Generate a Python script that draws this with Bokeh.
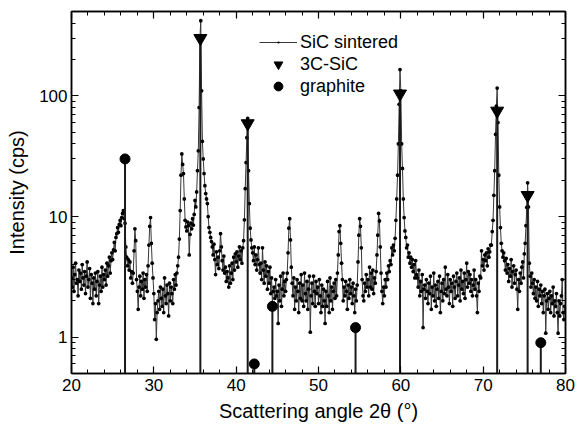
from bokeh.plotting import figure
from bokeh.models import (FixedTicker, LinearAxis, LogAxis, Legend, LegendItem,
                          Range1d)
from bokeh.embed import file_html
from bokeh.resources import INLINE

# ---- data -------------------------------------------------------------
ANGLE_START = 20.0
ANGLE_STEP = 0.1
INTENSITY = [
    3.1, 2.6, 3.8, 2.4, 3.3, 4.1, 2.8, 3.0, 2.2, 3.6,      # 20
    2.9, 3.4, 2.5, 4.0, 3.1, 2.7, 3.5, 2.3, 3.2, 4.2,      # 21
    2.6, 3.0, 3.7, 2.1, 3.3, 2.8, 1.9, 3.1, 2.5, 3.4,      # 22
    2.2, 2.9, 3.5, 1.9, 2.7, 3.2, 2.4, 3.8, 2.6, 3.3,      # 23
    3.0, 3.6, 2.7, 4.1, 3.2, 3.9, 4.6, 3.4, 4.3, 5.0,      # 24
    4.4, 5.3, 6.1, 5.2, 6.7, 7.2, 8.1, 7.4, 8.6, 9.3,      # 25
    8.4, 9.8, 10.6, 11.2, 9.6, 8.8, 5.6, 4.6, 3.9, 4.4,    # 26
    3.6, 4.2, 3.1, 3.5, 2.8, 3.4, 5.2, 7.9, 6.3, 3.0,      # 27
    2.4, 1.7, 2.6, 3.2, 2.2, 2.9, 2.5, 3.4, 2.1, 3.0,      # 28
    2.6, 3.3, 2.4, 3.9, 5.8, 8.3, 9.8, 6.0, 4.1, 3.1,      # 29
    2.3, 1.4, 1.9, 0.96, 1.6, 2.0, 2.4, 1.7, 2.6, 2.1,     # 30
    1.8, 2.5, 1.6, 3.1, 2.2, 1.9, 2.7, 2.3, 1.5, 2.8,      # 31
    2.0, 2.6, 2.3, 1.9, 3.0, 2.5, 3.3, 2.7, 3.4, 3.9,      # 32
    4.6, 6.5, 11.2, 22, 33, 27, 22.7, 14, 9.3, 8.2,        # 33
    7.6, 9.0, 8.4, 4.8, 7.1, 8.8, 7.9, 9.6, 8.5, 10.4,     # 34
    13.6, 12.0, 16, 24, 35, 80, 300, 420, 110, 42,         # 35
    30, 22.7, 18, 15.5, 14, 12.8, 10, 8.1, 7.4, 6.7,       # 36
    6.2, 5.6, 4.8, 5.9, 4.4, 3.3, 5.1, 4.0, 4.6, 3.7,      # 37
    5.2, 7.2, 5.6, 4.3, 3.6, 4.7, 3.4, 3.8, 2.9, 3.5,      # 38
    3.1, 2.6, 3.9, 2.8, 3.4, 4.1, 3.0, 4.6, 3.6, 4.9,      # 39
    4.2, 5.1, 3.8, 4.7, 5.6, 4.4, 5.2, 4.1, 5.5, 6.3,      # 40
    9.4, 17, 28, 45, 65, 24, 12.8, 8.0, 6.4, 5.5,          # 41
    5.0, 4.3, 5.6, 4.0, 4.8, 3.6, 4.4, 5.5, 4.0, 3.4,      # 42
    4.1, 3.0, 5.5, 3.6, 2.8, 4.2, 3.2, 3.9, 2.5, 3.5,      # 43
    2.8, 3.8, 2.3, 3.1, 1.9, 2.4, 2.6, 2.1, 3.0, 2.2,      # 44
    2.4, 1.3, 2.7, 2.0, 3.2, 1.8, 2.5, 3.4, 2.2, 2.9,      # 45
    2.4, 3.0, 3.4, 5.0, 8.0, 9.6, 6.4, 3.8, 2.8, 2.2,      # 46
    3.1, 1.7, 2.6, 2.0, 3.0, 2.4, 1.6, 2.8, 2.1, 3.3,      # 47
    2.0, 2.7, 1.8, 3.4, 2.3, 2.0, 2.9, 1.7, 2.5, 3.2,      # 48
    1.1, 2.2, 2.8, 1.9, 3.2, 2.4, 1.8, 2.9, 2.3, 2.6,      # 49
    1.9, 3.0, 2.2, 1.6, 2.7, 1.8, 2.5, 2.0, 1.3, 2.4,      # 50
    1.8, 2.9, 2.2, 1.6, 3.1, 2.0, 2.6, 1.7, 2.4, 2.8,      # 51
    2.1, 3.0, 2.2, 3.4, 4.8, 7.5, 8.4, 6.0, 4.1, 3.0,      # 52
    2.0, 2.6, 2.2, 2.9, 2.4, 1.7, 2.7, 2.1, 3.0, 2.3,      # 53
    2.6, 1.9, 2.8, 2.2, 1.6, 2.5, 2.0, 2.7, 4.2, 7.0,      # 54
    9.6, 8.3, 5.5, 3.0, 2.2, 2.0, 2.8, 2.4, 3.3, 2.6,      # 55
    3.0, 2.2, 3.8, 2.6, 3.4, 2.5, 3.6, 2.3, 3.1, 2.8,      # 56
    3.5, 4.8, 7.0, 10.6, 9.2, 5.6, 3.4, 2.4, 1.9, 2.6,     # 57
    2.2, 3.0, 2.6, 3.4, 3.0, 3.9, 3.5, 4.3, 4.0, 5.5,      # 58
    4.8, 5.8, 5.2, 6.6, 9.3, 14, 22, 40, 85, 165,          # 59
    110, 40, 25, 14, 9.8, 7.6, 6.7, 5.5, 5.8, 4.6,         # 60
    5.0, 4.1, 4.6, 3.8, 4.4, 3.5, 4.0, 3.1, 4.3, 3.3,      # 61
    3.1, 2.6, 3.6, 2.2, 2.9, 2.4, 3.3, 1.2, 2.5, 2.7,      # 62
    2.1, 3.0, 2.4, 1.9, 2.8, 2.3, 3.2, 1.7, 2.6, 2.2,      # 63
    3.4, 2.0, 2.7, 1.8, 2.5, 2.9, 2.1, 3.2, 1.6, 2.4,      # 64
    2.8, 2.0, 3.0, 2.3, 3.8, 2.5, 2.2, 3.3, 2.6, 1.9,      # 65
    3.0, 2.4, 2.8, 1.8, 3.2, 2.6, 2.1, 2.9, 3.4, 2.2,      # 66
    2.7, 3.1, 2.0, 3.6, 2.5, 2.9, 2.3, 3.4, 2.1, 3.0,      # 67
    4.1, 2.6, 3.5, 2.8, 3.3, 2.4, 3.0, 2.2, 2.7, 3.6,      # 68
    2.5, 3.0, 2.2, 1.6, 2.8, 2.4, 3.2, 3.1, 5.2, 3.9,      # 69
    4.4, 3.6, 4.8, 4.3, 5.0, 3.9, 5.4, 4.6, 5.1, 5.8,      # 70
    5.8, 7.5, 9.3, 15, 24, 48, 82, 116, 60, 22,            # 71
    12, 8.1, 6.0, 5.2, 4.6, 5.0, 4.3, 3.6, 4.5, 3.4,       # 72
    4.0, 2.9, 3.7, 3.2, 4.4, 2.6, 3.5, 3.9, 2.8, 3.3,      # 73
    3.6, 2.5, 1.7, 3.0, 2.4, 3.4, 2.8, 3.8, 4.2, 3.1,      # 74
    4.9, 6.0, 8.4, 11.9, 19, 12, 4.1, 3.2, 2.6, 3.4,       # 75
    2.8, 2.3, 3.0, 2.1, 2.6, 2.0, 2.9, 1.8, 2.5, 2.2,      # 76
    2.7, 1.9, 2.4, 1.6, 2.2, 2.5, 1.08, 2.0, 2.3, 1.7,     # 77
    2.1, 2.4, 1.6, 2.2, 1.9, 2.6, 1.5, 2.0, 1.8, 2.3,      # 78
    1.6, 1.08, 2.0, 1.5, 1.9, 2.2, 3.0, 1.6, 1.4, 1.8,     # 79
    1.6,                                                   # 80
]
ANGLE = [round(ANGLE_START + i * ANGLE_STEP, 2) for i in range(len(INTENSITY))]

SIC3C_ANGLE = [35.65, 41.4, 59.9, 71.7, 75.4]
SIC3C_INT = [300, 59, 104, 75, 15]
GRAPHITE_ANGLE = [26.5, 42.2, 44.4, 54.5, 77.0]
GRAPHITE_INT = [30, 0.6, 1.8, 1.2, 0.9]

X_RANGE = (20, 80)
Y_RANGE = (0.5, 500)
X_MAJOR = [20, 30, 40, 50, 60, 70, 80]
X_MINOR = [22, 24, 26, 28, 32, 34, 36, 38, 42, 44, 46, 48, 52, 54, 56, 58,
           62, 64, 66, 68, 72, 74, 76, 78]
Y_MAJOR = [1, 10, 100]
Y_MINOR = [0.5, 0.6, 0.7, 0.8, 0.9, 2, 3, 4, 5, 6, 7, 8, 9,
           20, 30, 40, 50, 60, 70, 80, 90, 200, 300, 400, 500]

FONT = "Liberation Sans"

p = figure(width=578, height=424, output_backend="svg", toolbar_location=None,
           y_axis_type="log", x_range=Range1d(*X_RANGE), y_range=Range1d(*Y_RANGE),
           min_border_left=71, min_border_right=13, min_border_top=11,
           min_border_bottom=51)
p.grid.visible = False
p.outline_line_color = "black"
p.outline_line_width = 1.5
p.background_fill_color = "white"
p.border_fill_color = "white"

xt = FixedTicker(ticks=X_MAJOR, minor_ticks=X_MINOR)
yt = FixedTicker(ticks=Y_MAJOR, minor_ticks=Y_MINOR)


def style_axis(ax, labels=True):
    ax.axis_line_color = "black"
    ax.axis_line_width = 1.5
    ax.major_tick_in = 7
    ax.major_tick_out = 0
    ax.minor_tick_in = 4
    ax.minor_tick_out = 0
    ax.major_tick_line_color = "black"
    ax.minor_tick_line_color = "black"
    ax.major_tick_line_width = 1.2
    ax.minor_tick_line_width = 1
    if labels:
        ax.major_label_text_font = FONT
        ax.major_label_text_font_size = "17px"
        ax.major_label_text_color = "black"
        ax.axis_label_text_font = FONT
        ax.axis_label_text_font_size = "20px"
        ax.axis_label_text_font_style = "normal"
        ax.axis_label_text_color = "black"
    else:
        ax.major_label_text_font_size = "1px"
        ax.major_label_text_color = None
        ax.major_label_standoff = 0


xa = p.xaxis[0]
xa.ticker = xt
xa.axis_label = "Scattering angle 2θ (°)"
style_axis(xa)
xa.major_label_standoff = 5
xa.axis_label_standoff = 6

ya = p.yaxis[0]
ya.ticker = yt
ya.axis_label = "Intensity (cps)"
ya.major_label_overrides = {1: "1", 10: "10", 100: "100"}
style_axis(ya)
ya.major_label_standoff = 4
ya.axis_label_standoff = 8

top = LinearAxis(ticker=xt)
style_axis(top, labels=False)
p.add_layout(top, "above")
right = LogAxis(ticker=yt)
style_axis(right, labels=False)
p.add_layout(right, "right")

# data trace
line_r = p.line(ANGLE, INTENSITY, line_color="#383838", line_width=1)
dots_r = p.scatter(ANGLE, INTENSITY, marker="dot", size=15, line_color="black",
                   fill_color="black")

# reference stems
p.segment(x0=SIC3C_ANGLE, y0=[Y_RANGE[0]] * len(SIC3C_ANGLE), x1=SIC3C_ANGLE,
          y1=SIC3C_INT, line_color="#1a1a1a", line_width=2)
p.segment(x0=GRAPHITE_ANGLE, y0=[Y_RANGE[0]] * len(GRAPHITE_ANGLE),
          x1=GRAPHITE_ANGLE, y1=GRAPHITE_INT, line_color="#1a1a1a", line_width=2)
tri_r = p.scatter(SIC3C_ANGLE, SIC3C_INT, marker="inverted_triangle", size=13,
                  fill_color="black", line_color="black")
circ_r = p.scatter(GRAPHITE_ANGLE, GRAPHITE_INT, marker="circle", size=10,
                   fill_color="black", line_color="black")

legend = Legend(items=[
    LegendItem(label="SiC sintered", renderers=[line_r, dots_r]),
    LegendItem(label="3C-SiC", renderers=[tri_r]),
    LegendItem(label="graphite", renderers=[circ_r]),
], location=(188, 276))
legend.label_text_font = FONT
legend.label_text_font_size = "18px"
legend.label_text_color = "black"
legend.glyph_width = 38
legend.glyph_height = 22
legend.label_height = 19
legend.spacing = -2
legend.padding = 0
legend.margin = 0
legend.label_standoff = 3
legend.border_line_alpha = 0
legend.background_fill_alpha = 0
p.add_layout(legend)

open("out.html", "w").write(file_html(p, INLINE))
